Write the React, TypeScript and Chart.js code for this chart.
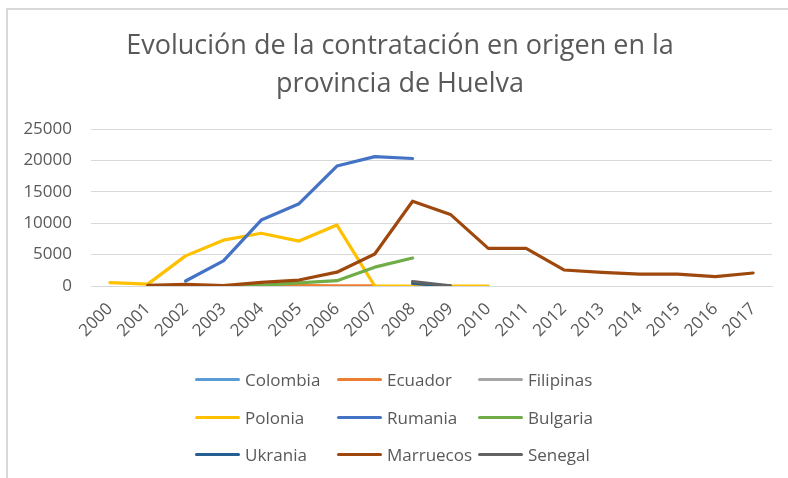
import React, { useEffect, useRef } from 'react';
import { Chart, registerables } from 'chart.js';

Chart.register(...registerables);

const years = ['2000', '2001', '2002', '2003', '2004', '2005', '2006', '2007', '2008', '2009', '2010', '2011', '2012', '2013', '2014', '2015', '2016', '2017'];

const seriesNames = ['Colombia', 'Ecuador', 'Filipinas', 'Polonia', 'Rumania', 'Bulgaria', 'Ukrania', 'Marruecos', 'Senegal'];
const seriesColors = ['#5B9BD5', '#ED7D31', '#A5A5A5', '#FFC000', '#4472C4', '#70AD47', '#255E91', '#9E480E', '#636363'];

const colombia = [null, null, 20, 20, 10, null, null, null, null, null, null, null, null, null, null, null, null, null];
const ecuador = [null, null, null, 30, 40, 50, 40, 20, null, null, null, null, null, null, null, null, null, null];
const filipinas = [null, null, null, null, null, null, null, null, 50, 20, null, null, null, null, null, null, null, null];
const polonia = [550, 300, 4800, 7300, 8400, 7150, 9700, 0, 0, 0, 0, null, null, null, null, null, null, null];
const rumania = [null, null, 800, 4000, 10500, 13100, 19100, 20600, 20300, null, null, null, null, null, null, null, null, null];
const bulgaria = [null, null, null, 0, 100, 500, 850, 3000, 4450, null, null, null, null, null, null, null, null, null];
const ukrania = [null, null, null, null, null, null, null, null, 400, 0, null, null, null, null, null, null, null, null];
const marruecos = [null, 100, 270, 50, 580, 950, 2200, 5100, 13500, 11400, 6000, 6000, 2550, 2180, 1900, 1900, 1480, 2070];
const senegal = [null, null, null, null, null, null, null, null, 700, 30, null, null, null, null, null, null, null, null];

const seriesValues = [colombia, ecuador, filipinas, polonia, rumania, bulgaria, ukrania, marruecos, senegal];

const yTicksMax = 25000;
const yStep = 5000;

const titleLines = ['Evolución de la contratación en origen en la', 'provincia de Huelva'];

const FONT = "'Open Sans', sans-serif";
const TEXT = '#595959';
const GRID = '#d9d9d9';

const titlePlugin = {
  id: 'centeredTitle',
  afterDraw(chart: any) {
    const ctx = chart.ctx;
    ctx.save();
    ctx.font = `27px ${FONT}`;
    ctx.fillStyle = TEXT;
    ctx.textAlign = 'center';
    ctx.textBaseline = 'middle';
    titleLines.forEach((line, i) => ctx.fillText(line, 400, 46 + i * 38));
    ctx.restore();
  },
};

export default function App() {
  const ref = useRef<HTMLCanvasElement | null>(null);

  useEffect(() => {
    document.body.style.margin = '0';
    if (!ref.current) return;
    const chart = new Chart(ref.current, {
      type: 'line',
      data: {
        labels: years,
        datasets: seriesNames.map((name, i) => ({
          label: name,
          data: seriesValues[i],
          borderColor: seriesColors[i],
          backgroundColor: seriesColors[i],
          borderWidth: 3.2,
          pointRadius: 0,
          tension: 0,
          fill: false,
          spanGaps: false,
          borderCapStyle: 'round',
          borderJoinStyle: 'round',
          order: -i,
        })),
      },
      plugins: [titlePlugin],
      options: {
        animation: false,
        responsive: false,
        layout: { padding: { left: 0, right: 16, top: 129, bottom: 122 } },
        plugins: {
          legend: { display: false },
          tooltip: { enabled: false },
          title: { display: false },
        },
        scales: {
          x: {
            offset: true,
            grid: { display: false, drawTicks: false },
            border: { display: true, color: GRID, width: 1 },
            ticks: {
              color: TEXT,
              font: { family: FONT, size: 17 },
              minRotation: 45,
              maxRotation: 45,
              autoSkip: false,
              padding: 13,
            },
            afterFit: (s: any) => {
              s.height = 70;
            },
          },
          y: {
            min: 0,
            max: yTicksMax,
            ticks: {
              stepSize: yStep,
              color: TEXT,
              font: { family: FONT, size: 17 },
              padding: 19,
              callback: (v: any) => String(v),
            },
            grid: { color: GRID, drawTicks: false, lineWidth: 1 },
            border: { display: false },
            afterFit: (s: any) => {
              s.width = 91;
            },
          },
        },
      },
    });
    return () => chart.destroy();
  }, []);

  const colX = [195, 337, 478];
  const rowY = [379, 417, 454];

  return (
    <div style={{ position: 'relative', width: 788, height: 478, overflow: 'hidden', background: '#fff' }}>
      <canvas ref={ref} width={788} height={478} style={{ position: 'absolute', left: 0, top: 0, width: 788, height: 478 }} />
      <div
        style={{
          position: 'absolute',
          left: 6,
          top: 8,
          width: 820,
          height: 520,
          borderTop: `2px solid ${GRID}`,
          borderLeft: `2px solid ${GRID}`,
          pointerEvents: 'none',
        }}
      />
      {seriesNames.map((name, i) => {
        const c = i % 3;
        const r = Math.floor(i / 3);
        return (
          <div
            key={name}
            style={{
              position: 'absolute',
              left: colX[c],
              top: rowY[r] - 12,
              height: 24,
              display: 'flex',
              alignItems: 'center',
              fontFamily: FONT,
              fontSize: 17,
              color: TEXT,
              whiteSpace: 'nowrap',
            }}
          >
            <div style={{ width: 45, height: 3, borderRadius: 1.5, background: seriesColors[i], marginRight: 5 }} />
            <span>{name}</span>
          </div>
        );
      })}
    </div>
  );
}
